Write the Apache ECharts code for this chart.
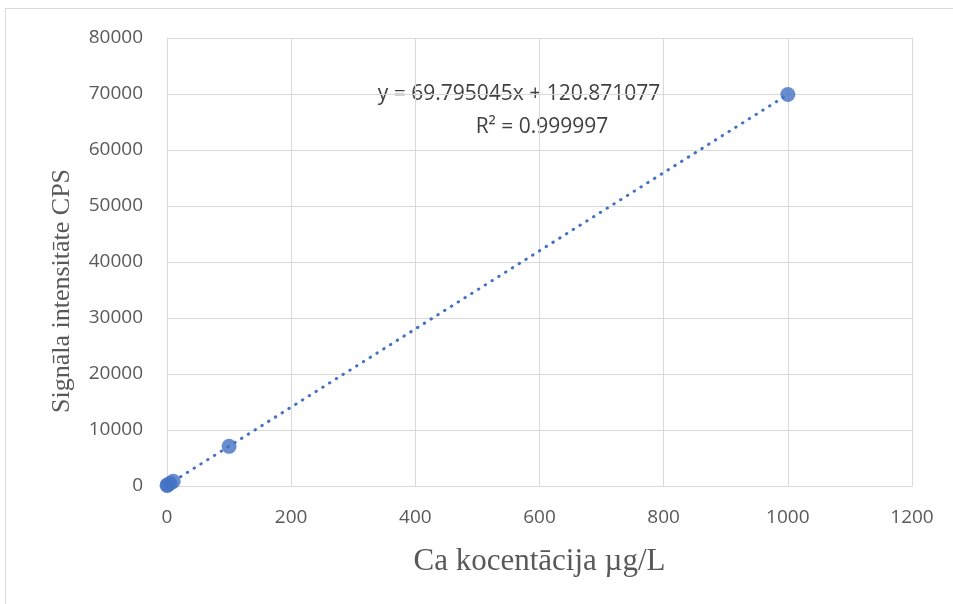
<!DOCTYPE html>
<html>
<head>
<meta charset="utf-8">
<script src="https://cdn.jsdelivr.net/npm/echarts@6/dist/echarts.min.js"></script>
<style>
  html, body { margin: 0; padding: 0; background: #fff; }
  #frame { position: absolute; left: 5px; top: 8px; width: 960px; height: 610px; border: 1px solid #d9d9d9; box-sizing: border-box; }
  #chart { position: absolute; left: 0; top: 0; width: 953px; height: 604px; }
</style>
</head>
<body>
<div id="frame"></div>
<div id="chart"></div>
<script>
// Calibration standards: Ca concentration (µg/L) and measured signal (CPS)
const concentrations = [0, 1, 5, 10, 100, 1000];
const signals = [110, 200, 480, 830, 7080, 69910];

// Fitted linear trendline
const slope = 69.795045;
const intercept = 120.871077;
const rSquared = '0.999997';
const trendX = [0, 1000];

const xTicks = { min: 0, max: 1200, interval: 200 };
const yTicks = { min: 0, max: 80000, interval: 10000 };

const points = concentrations.map((c, i) => [c, signals[i]]);
const trend = trendX.map(x => [x, slope * x + intercept]);
const plain = v => String(v);

const chart = echarts.init(document.getElementById('chart'), null, { renderer: 'canvas' });
chart.setOption({
  animation: false,
  grid: { left: 167, right: 41, top: 38, bottom: 118 },
  xAxis: {
    type: 'value', min: xTicks.min, max: xTicks.max, interval: xTicks.interval,
    name: 'Ca kocentācija µg/L', nameLocation: 'middle', nameGap: 60,
    nameTextStyle: { fontFamily: 'Liberation Serif', fontSize: 31, color: '#595959' },
    axisLine: { show: true, lineStyle: { color: '#d9d9d9', width: 1 } },
    axisTick: { show: false },
    axisLabel: { fontFamily: 'Open Sans', fontSize: 19, color: '#595959', margin: 22, formatter: plain },
    splitLine: { show: true, lineStyle: { color: '#d9d9d9', width: 1 } }
  },
  yAxis: {
    type: 'value', min: yTicks.min, max: yTicks.max, interval: yTicks.interval,
    axisLine: { show: false },
    axisTick: { show: false },
    axisLabel: { fontFamily: 'Open Sans', fontSize: 19, color: '#595959', margin: 24, formatter: plain },
    splitLine: { show: true, lineStyle: { color: '#d9d9d9', width: 1 } }
  },
  series: [
    {
      type: 'line', data: trend, symbol: 'none', silent: true,
      lineStyle: { color: '#4472C4', width: 3, type: [0.5, 7.5], cap: 'round' },
      z: 2
    },
    {
      type: 'scatter', data: points, symbol: 'circle', symbolSize: 15,
      itemStyle: { color: '#4472C4' }, z: 3
    }
  ],
  graphic: [
    {
      // vertical axis title
      type: 'text', x: 62, y: 291, rotation: Math.PI / 2,
      style: {
        text: 'Signāla intensitāte CPS',
        fontFamily: 'Liberation Serif', fontSize: 26, fill: '#595959', align: 'center', verticalAlign: 'middle'
      }
    },
    {
      type: 'text', x: 519, y: 94,
      style: {
        text: 'y = ' + slope.toFixed(6) + 'x + ' + intercept.toFixed(6),
        fontFamily: 'Open Sans', fontSize: 21, fill: '#404040', align: 'center', verticalAlign: 'middle'
      }
    },
    {
      type: 'text', x: 542, y: 127,
      style: {
        text: 'R² = ' + rSquared,
        fontFamily: 'Open Sans', fontSize: 21, fill: '#404040', align: 'center', verticalAlign: 'middle'
      }
    }
  ]
});
</script>
</body>
</html>
